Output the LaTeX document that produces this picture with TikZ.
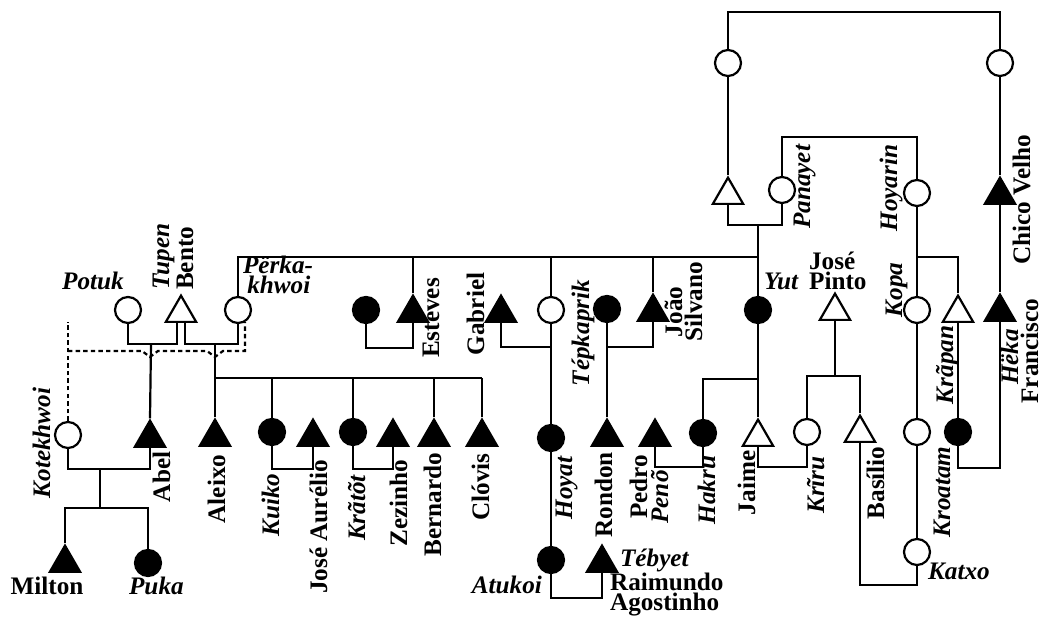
\documentclass[tikz,border=0pt]{standalone}
\usepackage{fontspec}
\setmainfont{Liberation Serif}
\usetikzlibrary{shapes.geometric, calc}

\tikzset{
  fem/.style={circle, draw, fill=white, line width=1.1pt, minimum size=13pt, inner sep=0pt},
  femf/.style={fem, fill=black},
  mal/.style={regular polygon, regular polygon sides=3, draw, fill=white, line width=1.1pt,
              minimum size=17.5pt, inner sep=0pt, anchor=south},
  malf/.style={mal, fill=black},
  nmb/.style={font=\fontsize{12.6}{10}\selectfont\bfseries, inner sep=0pt},
  nm/.style={nmb, text height=8pt, text depth=1pt},
  inm/.style={nm, font=\fontsize{12.6}{10}\selectfont\bfseries\itshape},
  vert/.style={rotate=90},
  link/.style={line width=1.1pt, dash pattern=on 2.2pt off 1.6pt}
}

\begin{document}
\begin{tikzpicture}[x=0.5pt, y=-0.5pt, line width=1.1pt]
  \useasboundingbox (0,0) rectangle (1041,619);

  % Row 0: the two women at the top
  \node[fem] (gmA) at (728,63) {};
  \node[fem] (gmB) at (1000,63) {};

  % Row 1
  \node[mal]  (fa) at (728,205) {};
  \node[fem]  (panayet) at (782,190) {};
  \node[fem]  (hoyarin) at (917,193) {};
  \node[malf] (chico) at (1000,205) {};

  % Row 2
  \node[fem]  (potuk) at (128,310) {};
  \node[mal]  (tupen) at (181,323) {};
  \node[fem]  (perka) at (238,310) {};
  \node[femf] (estwife) at (366,310) {};
  \node[malf] (esteves) at (413,323) {};
  \node[malf] (gabriel) at (501,323) {};
  \node[fem]  (gabwife) at (551,310) {};
  \node[femf] (tepkaprik) at (607,309) {};
  \node[malf] (joao) at (653,322) {};
  \node[femf] (yut) at (758,310) {};
  \node[mal]  (jpinto) at (835,321) {};
  \node[fem]  (kopa) at (917,310) {};
  \node[mal]  (krapan) at (958,323) {};
  \node[malf] (heka) at (1000,322) {};

  % Row 3
  \node[fem]  (kotek) at (68,435) {};
  \node[malf] (abel) at (150,448) {};
  \node[malf] (aleixo) at (215,447) {};
  \node[femf] (kuiko) at (272,432) {};
  \node[malf] (jaurelio) at (313,447) {};
  \node[femf] (kratot) at (353,432) {};
  \node[malf] (zezinho) at (393,447) {};
  \node[malf] (bernardo) at (434,447) {};
  \node[malf] (clovis) at (482,447) {};
  \node[femf] (hoyat) at (551,438) {};
  \node[malf] (rondon) at (607,447) {};
  \node[malf] (pedro) at (655,447) {};
  \node[femf] (hakru) at (703,433) {};
  \node[mal]  (jaime) at (758,447) {};
  \node[fem]  (kriru) at (807,432) {};
  \node[mal]  (basilio) at (860,443) {};
  \node[fem]  (kopad) at (917,432) {};
  \node[femf] (kroatam) at (958,432) {};

  % Row 4
  \node[malf] (milton) at (65,573) {};
  \node[femf] (puka) at (148,563) {};
  \node[femf] (atukoi) at (551,560) {};
  \node[malf] (tebyet) at (602,573) {};
  \node[fem]  (katxo) at (917,552) {};

  % lines, top part
  \draw (gmA.north) -- ++(0,-37) -| (gmB.north);
  \draw (gmA.south) -- (fa.north);
  \draw (gmB.south) -- (chico.north);
  \draw (chico.south) -- (heka.north);
  \draw (panayet.north) -- ++(0,-39) -| (hoyarin.north);
  \coordinate (u0) at (758,225);
  \draw (fa.south) |- (u0) -| (panayet.south);
  \draw (u0) -- (yut.north);
  \coordinate (sib0) at (758,257);
  \draw (perka.north) |- (sib0);
  \foreach \n in {esteves,gabwife,joao}
    \draw (\n.north) -- (\n.north |- sib0);

  % Tupen and his two wives
  \coordinate (u1) at (151,344);
  \coordinate (u2) at (215,344);
  \draw (potuk.south) |- (u1) -| ($(tupen.south)+(-4,0)$);
  \draw ($(tupen.south)+(4,0)$) |- (u2) -| (perka.south);
  \draw (u1) -- (abel.north);
  \draw (u2) -- (aleixo.north);
  \draw[link] (kotek.north) -- ++(0,-99);
  \draw[link] (kotek.north |- 0,351) -- (142,351) -- (150,357) -- (158,351)
    -- (207,351) -- (215,357) -- (223,351) -- (245,351) -- (perka.-60);

  % Aleixo's children
  \coordinate (sib1) at (482,378);
  \draw (aleixo.north |- sib1) -- (sib1);
  \foreach \n in {kuiko,kratot,bernardo,clovis}
    \draw (\n.north) -- (\n.north |- sib1);
  \draw (kuiko.south) -- ++(0,23) -| (jaurelio.south);
  \draw (kratot.south) -- ++(0,23) -| (zezinho.south);

  % Abel and Kotekhwoi
  \coordinate (u4) at (100,469);
  \coordinate (sib2) at (100,508);
  \draw (kotek.south) |- (u4) -| (abel.south);
  \draw (u4) -- (sib2);
  \draw (milton.north) |- (sib2) -| (puka.north);

  % middle
  \draw (estwife.south) -- ++(0,24) -| (esteves.south);
  \draw (gabriel.south) -- ++(0,24) -| (gabwife.south);
  \draw (gabwife.south) -- (hoyat.north);
  \draw (hoyat.south) -- (atukoi.north);
  \draw (atukoi.south) -- ++(0,24) -| (tebyet.south);
  \draw (tepkaprik.south) -- ++(0,24) -| (joao.south);
  \draw (tepkaprik.south) -- (rondon.north);

  % Yut and Jose Pinto
  \draw (yut.south) -- (jaime.north);
  \draw (hakru.north) |- ($(yut.south)+(0,55)$);
  \draw (pedro.south) -- ++(0,20) -| (hakru.south);
  \draw (jaime.south) -- ++(0,20) -| (kriru.south);
  \draw (jpinto.south) -- ++(0,55) coordinate (u3);
  \draw (kriru.north) |- (u3) -| (basilio.north);
  \draw (basilio.south) -- ++(0,142) -| (katxo.south);

  % right side
  \draw (hoyarin.south) -- (kopa.north);
  \draw ($(hoyarin.south)+(0,50)$) -| (krapan.north);
  \draw (kopa.south) -- (kopad.north);
  \draw (kopad.south) -- (katxo.north);
  \draw (krapan.south) -- (kroatam.north);
  \draw (kroatam.south) -- ++(0,22) -| (heka.south);

  % labels, upper rows
  \node[inm] (lPotuk) at (93,283) {Potuk};
  \node[nmb, vert, align=left, anchor=base west] (lTupen) at (193,291) {\textit{Tupen}\\Bento};
  \node[nmb, align=left, anchor=base west] (lPerka) at (242,294) {\textit{Përka-}\\\textit{\,khwoi}};
  \node[nm, vert] (lEsteves) at (432,318) {Esteves};
  \node[nm, vert] (lGabriel) at (477,314) {Gabriel};
  \node[inm, vert] (lTep) at (582,333) {Tépkaprik};
  \node[nm, vert] (lJoao) at (675,312) {João};
  \node[nm, vert] (lSilvano) at (695,302) {Silvano};
  \node[inm, anchor=west] (lYut) at (763,283) {Yut};
  \node[nmb, align=left, anchor=base west] (lJosePinto) at (808,290) {José\\Pinto};
  \node[inm, vert] (lKopa) at (895,290) {Kopa};
  \node[inm, vert] (lKrapan) at (946,365) {Krãpan};
  \node[inm, vert] (lHeka) at (1011,357) {Hëka};
  \node[nm, vert] (lFrancisco) at (1031,351) {Francisco};
  \node[inm, vert] (lPanayet) at (803,187) {Panayet};
  \node[inm, vert] (lHoyarin) at (890,188) {Hoyarin};
  \node[nm, vert] (lChico) at (1023,200) {Chico Velho};

  % labels, row 3
  \node[inm, vert] (lKotek) at (43,443) {Kotekhwoi};
  \node[nm, vert] (lAbel) at (163,477) {Abel};
  \node[nm, vert] (lAleixo) at (218,489) {Aleixo};
  \node[inm, vert] (lKuiko) at (272,505) {Kuiko};
  \node[nm, vert] (lJAurelio) at (320,527) {José Aurélio};
  \node[inm, vert] (lKratot) at (358,508) {Krãtõt};
  \node[nm, vert] (lZezinho) at (400,503) {Zezinho};
  \node[nm, vert] (lBernardo) at (434,505) {Bernardo};
  \node[nm, vert] (lClovis) at (482,487) {Clóvis};
  \node[inm, vert] (lHoyat) at (565,488) {Hoyat};
  \node[nm, vert] (lRondon) at (605,495) {Rondon};
  \node[nm, vert] (lPedro) at (640,487) {Pedro};
  \node[inm, vert] (lPeno) at (661,497) {Penõ};
  \node[inm, vert] (lHakru) at (708,490) {Hakru};
  \node[nm, vert] (lJaime) at (748,483) {Jaime};
  \node[inm, vert] (lKriru) at (817,485) {Krĩru};
  \node[nm, vert] (lBasilio) at (877,483) {Basílio};
  \node[inm, vert] (lKroatam) at (943,492) {Kroatam};

  % labels, row 4
  \node[nm] (lMilton) at (47,588) {Milton};
  \node[inm, anchor=west] (lPuka) at (128,588) {Puka};
  \node[inm, anchor=east] (lAtukoi) at (543,587) {Atukoi};
  \node[nmb, align=left, anchor=base west] (lTebyet) at (609,611)
    {\hspace*{5pt}\textit{Tébyet}\\Raimundo\\Agostinho};
  \node[inm, anchor=west] (lKatxo) at (927,573) {Katxo};
\end{tikzpicture}
\end{document}
